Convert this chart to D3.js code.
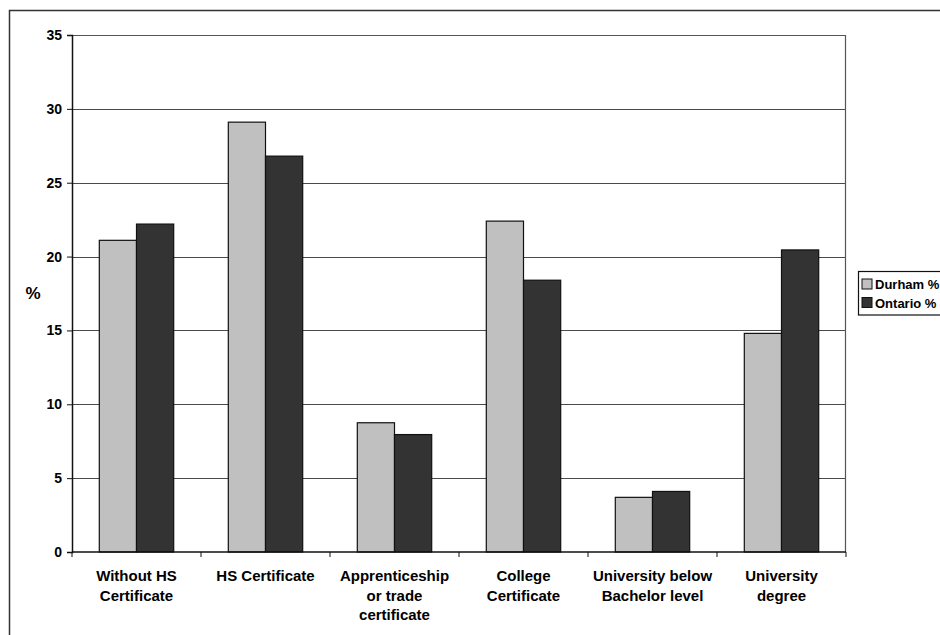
<!DOCTYPE html>
<html>
<head>
<meta charset="utf-8">
<script src="https://cdn.jsdelivr.net/npm/d3@7"></script>
<style>
  html, body { margin: 0; padding: 0; background: #fff; }
  svg { display: block; }
  text { font-family: "Liberation Sans", Arial, sans-serif; font-weight: bold; fill: #000; }
</style>
</head>
<body>
<svg id="chart" width="940" height="635"></svg>
<script>
const categories = [
  ["Without HS", "Certificate"],
  ["HS Certificate"],
  ["Apprenticeship", "or trade", "certificate"],
  ["College", "Certificate"],
  ["University below", "Bachelor level"],
  ["University", "degree"]
];
const seriesNames = ["Durham %", "Ontario %"];
const durham = [21.1, 29.1, 8.75, 22.4, 3.7, 14.8];
const ontario = [22.2, 26.8, 7.95, 18.4, 4.1, 20.45];
const yTicks = [0, 5, 10, 15, 20, 25, 30, 35];
const seriesColors = ["#c0c0c0", "#333333"];

const svg = d3.select("#chart");
const plot = { left: 72, right: 846, top: 35, bottom: 552 };

// outer frame
svg.append("path")
  .attr("d", "M9.5,640 L9.5,10.5 L945,10.5")
  .attr("fill", "none").attr("stroke", "#333").attr("stroke-width", 1.5);

const catIdx = categories.map((d, i) => i);
const x0 = d3.scaleBand().domain(catIdx).range([plot.left, plot.right]).padding(0);
const x1 = d3.scaleBand().domain(seriesNames).range([0, x0.bandwidth()])
  .paddingInner(0).paddingOuter(0.734);
const y = d3.scaleLinear().domain([0, 35]).range([plot.bottom, plot.top]);

// gridlines
svg.append("g").selectAll("line").data(yTicks.filter(t => t > 0 && t < 35)).join("line")
  .attr("x1", plot.left).attr("x2", plot.right)
  .attr("y1", d => Math.round(y(d)) + 0.5).attr("y2", d => Math.round(y(d)) + 0.5)
  .attr("stroke", "#4a4a4a").attr("stroke-width", 1);

// plot border (top & right)
svg.append("path")
  .attr("d", `M${plot.left},${plot.top + 0.5} L${plot.right - 0.5},${plot.top + 0.5} L${plot.right - 0.5},${plot.bottom}`)
  .attr("fill", "none").attr("stroke", "#555").attr("stroke-width", 1.2);

// bars
const data = catIdx.map(i => [durham[i], ontario[i]]);
const groups = svg.append("g").selectAll("g").data(data).join("g")
  .attr("transform", (d, i) => `translate(${x0(i)},0)`);
groups.selectAll("rect").data(d => d.map((v, j) => ({ v, s: seriesNames[j], j }))).join("rect")
  .attr("x", d => x1(d.s))
  .attr("width", x1.bandwidth())
  .attr("y", d => y(d.v))
  .attr("height", d => y(0) - y(d.v))
  .attr("fill", d => seriesColors[d.j])
  .attr("stroke", "#111").attr("stroke-width", 1.2);

// y axis
const yAxis = d3.axisLeft(y).tickValues(yTicks).tickSize(5).tickPadding(5);
const gy = svg.append("g").attr("transform", `translate(${plot.left},0)`).call(yAxis);
gy.select(".domain").attr("stroke", "#111").attr("stroke-width", 1.5);
gy.selectAll(".tick line").attr("stroke", "#111");
gy.selectAll(".tick text").style("font-size", "14px").style("font-family", "Liberation Sans, Arial, sans-serif").style("font-weight", "bold").attr("fill", "#000");

// x axis
const gx = svg.append("g").attr("transform", `translate(0,${plot.bottom})`);
gx.append("line").attr("x1", plot.left).attr("x2", plot.right).attr("y1", 0).attr("y2", 0)
  .attr("stroke", "#111").attr("stroke-width", 1.5);
const boundaries = catIdx.map(i => x0(i)).concat([x0(catIdx.length - 1) + x0.bandwidth()]);
gx.selectAll("line.tk").data(boundaries).join("line").attr("class", "tk")
  .attr("x1", d => d).attr("x2", d => d).attr("y1", 0).attr("y2", 5)
  .attr("stroke", "#111");

const labels = svg.append("g").selectAll("text").data(categories).join("text")
  .attr("text-anchor", "middle")
  .attr("x", (d, i) => x0(i) + x0.bandwidth() / 2)
  .attr("y", 581)
  .style("font-size", "15px");
labels.selectAll("tspan").data(d => d).join("tspan")
  .attr("x", function () { return d3.select(this.parentNode).attr("x"); })
  .attr("dy", (d, i) => i === 0 ? 0 : 19.5)
  .text(d => d);

// y axis title
svg.append("text").attr("x", 33).attr("y", 299).attr("text-anchor", "middle")
  .style("font-size", "17px").text("%");

// legend
const lg = svg.append("g");
lg.append("rect").attr("x", 858.5).attr("y", 271.5).attr("width", 120).attr("height", 43.5)
  .attr("fill", "#fff").attr("stroke", "#111").attr("stroke-width", 1.2);
const items = lg.selectAll("g").data(seriesNames).join("g")
  .attr("transform", (d, i) => `translate(0,${284 + i * 18.5})`);
items.append("rect").attr("x", 862).attr("y", -5).attr("width", 10).attr("height", 10)
  .attr("fill", (d, i) => seriesColors[i]).attr("stroke", "#111").attr("stroke-width", 1);
items.append("text").attr("x", 875).attr("y", 5).style("font-size", "13px").text(d => d);
</script>
</body>
</html>
